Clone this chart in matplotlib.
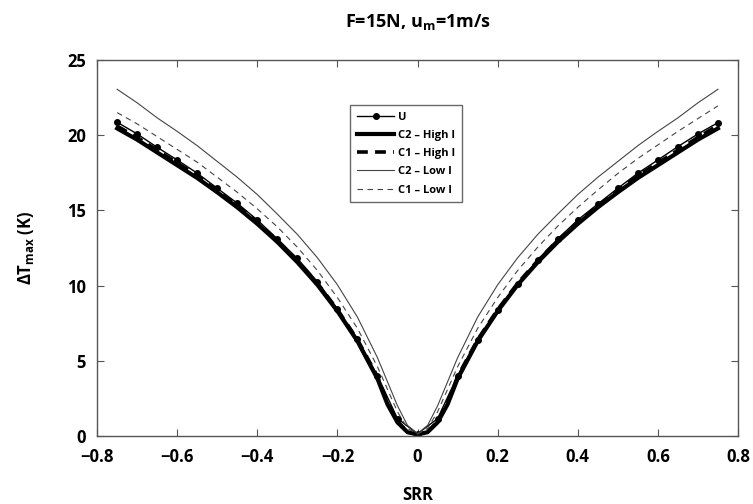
import matplotlib
matplotlib.use("Agg")
import matplotlib.pyplot as plt

plt.rcParams["font.family"] = ["Open Sans", "DejaVu Sans"]
plt.rcParams["font.weight"] = "bold"
plt.rcParams["axes.titleweight"] = "bold"
plt.rcParams["axes.labelweight"] = "bold"
plt.rcParams["mathtext.default"] = "regular"

# SRR grid for the U markers (step 0.05)
srr_u = [-0.75, -0.70, -0.65, -0.60, -0.55, -0.50, -0.45, -0.40, -0.35, -0.30,
         -0.25, -0.20, -0.15, -0.10, -0.05, 0.0, 0.05, 0.10, 0.15, 0.20,
         0.25, 0.30, 0.35, 0.40, 0.45, 0.50, 0.55, 0.60, 0.65, 0.70, 0.75]
u_vals = [20.86, 20.08, 19.19, 18.35, 17.47, 16.47, 15.47, 14.36, 13.10, 11.80,
          10.26, 8.45, 6.45, 4.00, 1.15, 0.15, 1.15, 4.00, 6.40, 8.38,
          10.10, 11.72, 13.10, 14.36, 15.42, 16.47, 17.47, 18.35, 19.24, 20.08, 20.83]

# SRR grid for the model curves (finer near zero)
srr = [-0.75, -0.70, -0.65, -0.60, -0.55, -0.50, -0.45, -0.40, -0.35, -0.30,
       -0.25, -0.20, -0.15, -0.10, -0.075, -0.05, -0.025, 0.0, 0.025, 0.05,
       0.075, 0.10, 0.15, 0.20, 0.25, 0.30, 0.35, 0.40, 0.45, 0.50,
       0.55, 0.60, 0.65, 0.70, 0.75]
c2_high = [20.45, 19.70, 18.85, 18.00, 17.15, 16.20, 15.20, 14.10, 12.90, 11.55,
           10.05, 8.30, 6.30, 3.80, 2.10, 0.90, 0.25, 0.10, 0.25, 0.90,
           2.10, 3.80, 6.30, 8.30, 10.05, 11.55, 12.90, 14.10, 15.20, 16.20,
           17.15, 18.00, 18.85, 19.70, 20.45]
c1_high = [20.60, 19.85, 19.00, 18.15, 17.30, 16.30, 15.30, 14.20, 13.00, 11.65,
           10.15, 8.40, 6.40, 3.95, 2.20, 0.95, 0.27, 0.10, 0.27, 0.95,
           2.20, 3.95, 6.40, 8.40, 10.15, 11.65, 13.00, 14.20, 15.30, 16.30,
           17.30, 18.15, 19.00, 19.85, 20.65]
c2_low = [23.05, 22.15, 21.15, 20.25, 19.30, 18.25, 17.20, 16.05, 14.75, 13.40,
          11.85, 10.05, 7.90, 5.20, 3.60, 2.00, 0.70, 0.15, 0.70, 2.00,
          3.60, 5.20, 7.90, 10.05, 11.85, 13.40, 14.75, 16.05, 17.20, 18.25,
          19.30, 20.25, 21.15, 22.15, 23.05]
c1_low = [21.50, 20.75, 19.90, 19.05, 18.20, 17.20, 16.20, 15.10, 13.90, 12.55,
          11.00, 9.20, 7.15, 4.60, 3.10, 1.60, 0.50, 0.12, 0.50, 1.60,
          3.10, 4.60, 7.15, 9.20, 11.00, 12.55, 13.95, 15.20, 16.35, 17.45,
          18.45, 19.35, 20.25, 21.10, 21.95]

fig = plt.figure(figsize=(7.53, 5.04), dpi=100)
ax = fig.add_axes([0.129, 0.135, 0.851, 0.746])

ax.plot(srr_u, u_vals, color="black", lw=1.0, marker="o", ms=4, label="U")
ax.plot(srr, c2_high, color="black", lw=3.0, label="C2 – High I")
ax.plot(srr, c1_high, color="black", lw=2.6, ls=(0, (3, 2)), label="C1 – High I")
ax.plot(srr, c2_low, color="#444444", lw=0.8, label="C2 – Low I")
ax.plot(srr, c1_low, color="#444444", lw=0.8, ls=(0, (5, 4)), label="C1 – Low I")

ax.set_xlim(-0.8, 0.8)
ax.set_ylim(0, 25)
ax.set_xticks([-0.8, -0.6, -0.4, -0.2, 0, 0.2, 0.4, 0.6, 0.8])
ax.set_xticklabels(["−0.8", "−0.6", "−0.4", "−0.2", "0", "0.2", "0.4", "0.6", "0.8"])
ax.set_yticks([0, 5, 10, 15, 20, 25])
ax.tick_params(direction="in", top=True, right=True, labelsize=12, length=5,
               color="#555555")
ax.tick_params(axis="x", pad=9)
ax.tick_params(axis="y", pad=8)
for s in ax.spines.values():
    s.set_color("#555555")
    s.set_linewidth(1.0)

ax.set_xlabel("SRR", fontsize=12, labelpad=14)
ax.set_ylabel("ΔT$_{max}$ (K)", fontsize=12, labelpad=22)
ax.set_title("F=15N, u$_m$=1m/s", fontsize=13, pad=24)

leg = ax.legend(loc="upper left", bbox_to_anchor=(0.386, 0.895), fontsize=8,
                handlelength=3.4, handletextpad=0.3, borderpad=0.6,
                labelspacing=0.65, frameon=True, fancybox=False)
leg.get_frame().set_edgecolor("#444444")
leg.get_frame().set_linewidth(1.0)

fig.savefig("out.png", dpi=100, facecolor="white")
